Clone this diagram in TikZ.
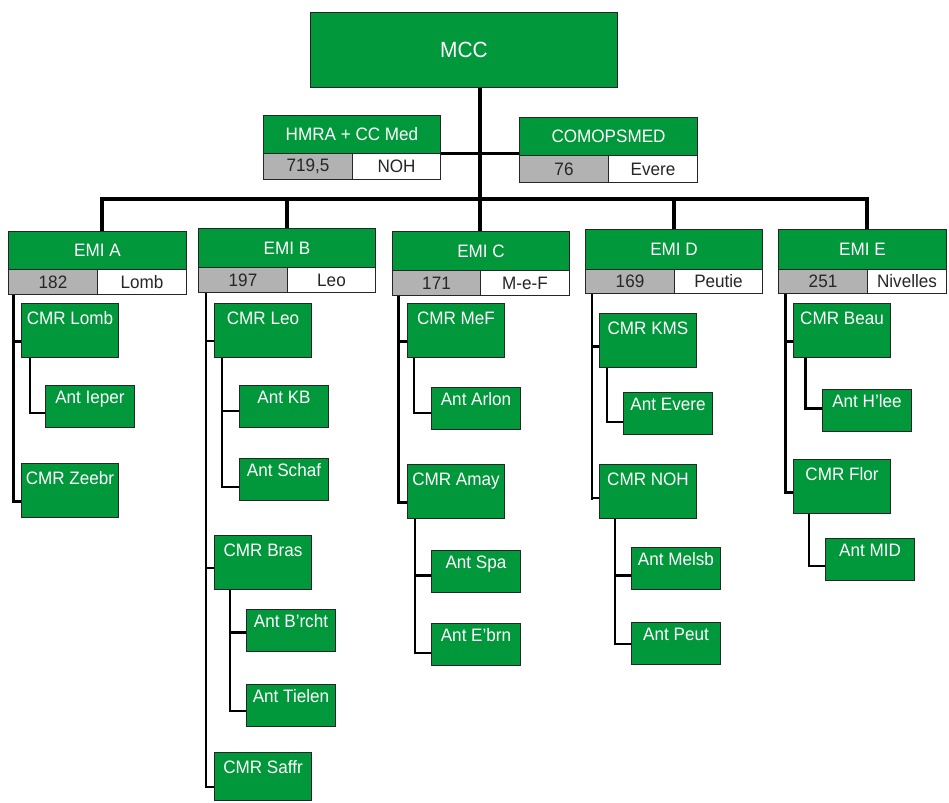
\documentclass[tikz,border=0pt]{standalone}
\usepackage{fontspec}
\setmainfont{Liberation Sans}[FakeStretch=0.95]
\definecolor{gfill}{RGB}{0,152,58}
\definecolor{gcell}{RGB}{178,178,178}
\tikzset{
  boxbase/.style={draw=black!85, line width=1pt, anchor=north west, inner sep=0pt, font=\fontsize{18}{18}\selectfont},
  hdr/.style={boxbase, fill=gfill, text=white},
  numc/.style={boxbase, fill=gcell, text=black!85},
  locc/.style={boxbase, fill=white, text=black!85},
  cmr/.style={hdr, minimum width=97, text height=20.5, text depth=33.5},
  ant/.style={hdr, minimum width=89, text height=18, text depth=24},
  bus/.style={line width=4pt, black},
  trunk/.style={line width=3pt, black, line join=miter},
  sub/.style={line width=2.5pt, black, line join=miter},
}
\begin{document}
\begin{tikzpicture}[x=1pt,y=-1pt]
\useasboundingbox (0,0) rectangle (949,802);

% top
\node[hdr, minimum width=307, minimum height=75, font=\fontsize{22}{22}\selectfont] (mcc) at (310,12) {MCC};
\node[hdr, minimum width=177, minimum height=38] (hmra) at (263,115) {HMRA + CC Med};
\node[numc, minimum width=89, minimum height=26] (hmran) at (263,153) {719,5};
\node[locc, minimum width=88, minimum height=26] (hmral) at (352,153) {NOH};
\node[hdr, minimum width=178, minimum height=38] (comops) at (519,117) {COMOPSMED};
\node[numc, minimum width=89, minimum height=27] (comopsn) at (519,155) {76};
\node[locc, minimum width=89, minimum height=27] (comopsl) at (608,155) {Evere};

% EMI headers
\node[hdr, minimum width=178, minimum height=38] (emiA) at (8,231) {EMI A};
\node[numc, minimum width=89, minimum height=25] (emiAn) at (8,269) {182};
\node[locc, minimum width=89, minimum height=25] (emiAl) at (97,269) {Lomb};

\node[hdr, minimum width=177, minimum height=39] (emiB) at (198,228) {EMI B};
\node[numc, minimum width=89, minimum height=25] (emiBn) at (198,267) {197};
\node[locc, minimum width=88, minimum height=25] (emiBl) at (287,267) {Leo};

\node[hdr, minimum width=177, minimum height=39] (emiC) at (392,231) {EMI C};
\node[numc, minimum width=88, minimum height=25] (emiCn) at (392,270) {171};
\node[locc, minimum width=89, minimum height=25] (emiCl) at (480,270) {M-e-F};

\node[hdr, minimum width=177, minimum height=40] (emiD) at (585,229) {EMI D};
\node[numc, minimum width=89, minimum height=24] (emiDn) at (585,269) {169};
\node[locc, minimum width=88, minimum height=24] (emiDl) at (674,269) {Peutie};

\node[hdr, minimum width=168, minimum height=40] (emiE) at (778,229) {EMI E};
\node[numc, minimum width=89, minimum height=24] (emiEn) at (778,269) {251};
\node[locc, minimum width=79, minimum height=24] (emiEl) at (867,269) {Nivelles};

% column A
\node[cmr] (lomb) at (21,303) {CMR Lomb};
\node[ant] (ieper) at (45,385) {Ant Ieper};
\node[cmr] (zeebr) at (21,463) {CMR Zeebr};
% column B
\node[cmr] (leo) at (214,303) {CMR Leo};
\node[ant] (kb) at (239,385) {Ant KB};
\node[ant] (schaf) at (239,458) {Ant Schaf};
\node[cmr] (bras) at (214,535) {CMR Bras};
\node[ant] (brcht) at (246,609) {Ant B'rcht};
\node[ant] (tielen) at (246,684) {Ant Tielen};
\node[cmr, text depth=27.5] (saffr) at (214,752) {CMR Saffr};
% column C
\node[cmr] (mef) at (407,303) {CMR MeF};
\node[ant] (arlon) at (431,387) {Ant Arlon};
\node[cmr] (amay) at (407,464) {CMR Amay};
\node[ant] (spa) at (431,550) {Ant Spa};
\node[ant] (ebrn) at (431,623) {Ant E'brn};
% column D
\node[cmr] (kms) at (599,313) {CMR KMS};
\node[ant] (devere) at (623,392) {Ant Evere};
\node[cmr] (cnoh) at (599,464) {CMR NOH};
\node[ant] (melsb) at (631,547) {Ant Melsb};
\node[ant] (peut) at (631,622) {Ant Peut};
% column E
\node[cmr] (beau) at (793,303) {CMR Beau};
\node[ant] (hlee) at (822,389) {Ant H'lee};
\node[cmr] (flor) at (793,459) {CMR Flor};
\node[ant] (mid) at (825,538) {Ant MID};

% top connectors
\coordinate (bA) at (102,199);
\coordinate (bB) at (287,199);
\coordinate (bC) at (480,199);
\coordinate (bD) at (674,199);
\coordinate (bE) at (867,199);
\draw[bus] (mcc.south -| bC) -- (emiC.north -| bC);
\draw[sub, line width=3pt] (hmra.south east) -- (comops.south west |- hmra.south east);
\draw[bus] (emiA.north -| bA) -- (bA) -- (bE) -- (emiE.north -| bE);
\draw[bus] (bB) -- (emiB.north -| bB);
\draw[bus] (bD) -- (emiD.north -| bD);

% column A connectors
\coordinate (tA) at (13,0);
\draw[trunk] (emiAn.south -| tA) |- (zeebr.west |- 0,501);
\draw[trunk] (tA |- 0,341) -- (lomb.west |- 0,341);
\draw[sub] (lomb.south -| 30,0) |- (ieper.west |- 0,413);

% column B connectors
\coordinate (tB) at (206,0);
\draw[sub] (emiBn.south -| tB) |- (saffr.west |- 0,787);
\draw[sub] (tB |- 0,341) -- (leo.west |- 0,341);
\draw[sub] (tB |- 0,568) -- (bras.west |- 0,568);
\draw[sub] (leo.south -| 222,0) |- (schaf.west |- 0,487);
\draw[sub] (222,411) -- (kb.west |- 0,411);
\draw[sub] (bras.south -| 230,0) |- (tielen.west |- 0,711);
\draw[trunk] (230,632) -- (brcht.west |- 0,632);

% column C connectors
\coordinate (tC) at (398,0);
\draw[trunk] (emiCn.south -| tC) |- (amay.west |- 0,502);
\draw[trunk] (tC |- 0,341) -- (mef.west |- 0,341);
\draw[sub] (mef.south -| 414,0) |- (arlon.west |- 0,413);
\draw[sub] (amay.south -| 415,0) |- (ebrn.west |- 0,653);
\draw[trunk] (415,575) -- (spa.west |- 0,575);

% column D connectors
\coordinate (tD) at (592,0);
\draw[sub] (emiDn.south -| tD) -- (tD |- 0,500);
\draw[trunk] (tD |- 0,346) -- (kms.west |- 0,346);
\draw[sub] (tD |- 0,498) -- (cnoh.west |- 0,498);
\draw[sub] (kms.south -| 607,0) |- (devere.west |- 0,422);
\draw[sub] (cnoh.south -| 615,0) |- (peut.west |- 0,644);
\draw[trunk] (615,575) -- (melsb.west |- 0,575);

% column E connectors
\coordinate (tE) at (785,0);
\draw[trunk] (emiEn.south -| tE) |- (flor.west |- 0,492);
\draw[trunk] (tE |- 0,341) -- (beau.west |- 0,341);
\draw[trunk] (beau.south -| 805,0) |- (hlee.west |- 0,408);
\draw[sub] (flor.south -| 809,0) |- (mid.west |- 0,566);
\end{tikzpicture}
\end{document}
